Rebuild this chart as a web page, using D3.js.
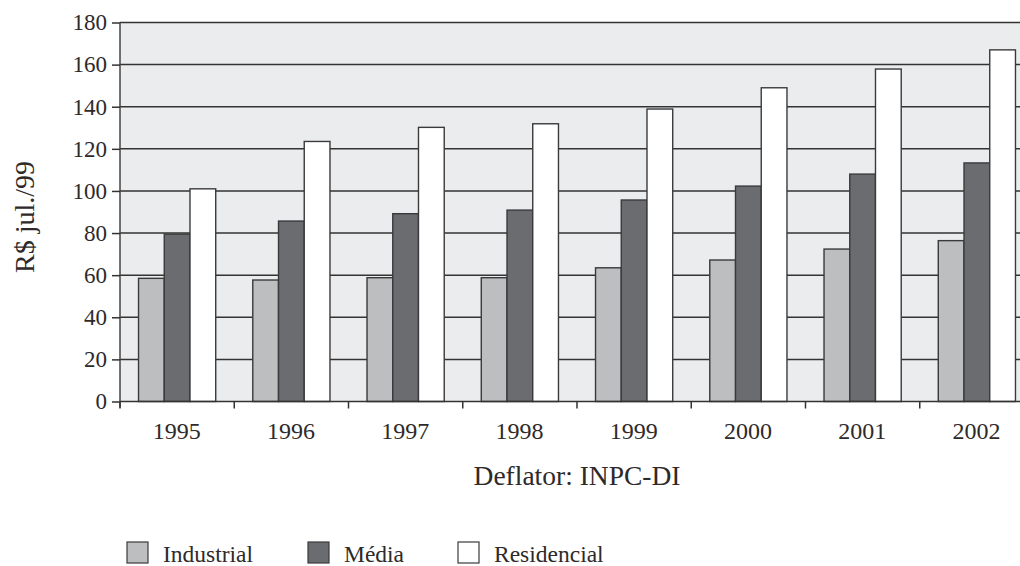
<!DOCTYPE html>
<html><head><meta charset="utf-8">
<script src="https://cdn.jsdelivr.net/npm/d3@7"></script>
<style>body{margin:0;background:#fff}svg{display:block}</style>
</head><body>
<svg id="c" width="1020" height="566"></svg>
<script>
const years = ["1995","1996","1997","1998","1999","2000","2001","2002"];
const seriesNames = ["Industrial","Média","Residencial"];
const industrial = [58.5, 57.7, 58.8, 58.8, 63.5, 67.2, 72.4, 76.4];
const media = [79.5, 85.7, 89.2, 90.9, 95.7, 102.3, 108, 113.3];
const residencial = [101, 123.5, 130.2, 131.9, 138.9, 149, 157.9, 167];
const yTicks = [0,20,40,60,80,100,120,140,160,180];
const colors = ["#bdbec0","#6b6c70","#ffffff"];
const seriesVals = [industrial, media, residencial];

const svg = d3.select("#c");
const font = "'Liberation Serif', 'DejaVu Serif', serif";
const txt = "#2e2a2a";
const L = 120, R = 1034, T = 22.5, B = 401.5;

const x = d3.scaleBand().domain(years).range([L, R]).paddingInner(0).paddingOuter(0);
const xs = d3.scaleBand().domain(seriesNames).range([0, x.bandwidth()]).paddingInner(0).paddingOuter(0.72);
const y = d3.scaleLinear().domain([0,180]).range([B, T]);

svg.append("rect").attr("x", L).attr("y", T).attr("width", R - L).attr("height", B - T).attr("fill", "#ebecee");

// gridlines
svg.append("g").selectAll("line").data(yTicks.filter(d => d > 0)).join("line")
  .attr("x1", L).attr("x2", R).attr("y1", d => y(d)).attr("y2", d => y(d))
  .attr("stroke", "#333").attr("stroke-width", 1.5);

// bars
const g = svg.append("g");
years.forEach((yr, i) => {
  seriesNames.forEach((s, j) => {
    const v = seriesVals[j][i];
    g.append("rect")
      .attr("x", x(yr) + xs(s)).attr("y", y(v))
      .attr("width", xs.bandwidth()).attr("height", B - y(v))
      .attr("fill", colors[j]).attr("stroke", "#3a3a3c").attr("stroke-width", 1.4);
  });
});

// y axis
const yAxis = d3.axisLeft(y).tickValues(yTicks).tickSize(8).tickPadding(5);
const ya = svg.append("g").attr("transform", `translate(${L},0)`).call(yAxis);
ya.select(".domain").attr("d", `M0,${T}V${B + 6}`).attr("stroke", "#444").attr("stroke-width", 1.5);
ya.selectAll(".tick line").attr("stroke", "#333").attr("stroke-width", 1.5);
ya.selectAll("text").attr("font-family", font).attr("font-size", 23).attr("fill", txt);

// x axis
const xa = svg.append("g").attr("transform", `translate(0,${B})`);
xa.append("line").attr("x1", L).attr("x2", R).attr("y1", 0).attr("y2", 0).attr("stroke", "#333").attr("stroke-width", 1.5);
xa.selectAll("line.tk").data(years).join("line").attr("class","tk")
  .attr("x1", d => x(d)).attr("x2", d => x(d)).attr("y1", 0).attr("y2", 7)
  .attr("stroke", "#333").attr("stroke-width", 1.5);
xa.selectAll("text").data(years).join("text")
  .attr("x", d => x(d) + x.bandwidth()/2 - 0.5).attr("y", 37)
  .attr("text-anchor", "middle").attr("font-family", font).attr("font-size", 24).attr("fill", txt)
  .text(d => d);

// titles
svg.append("text").attr("transform", "translate(34,217) rotate(-90)")
  .attr("text-anchor", "middle").attr("font-family", font).attr("font-size", 28).attr("fill", txt)
  .text("R$ jul./99");
svg.append("text").attr("x", 577).attr("y", 485)
  .attr("text-anchor", "middle").attr("font-family", font).attr("font-size", 27.5).attr("fill", txt)
  .text("Deflator: INPC-DI");

// legend
const legX = [127, 308, 458];
const leg = svg.append("g");
seriesNames.forEach((s, j) => {
  leg.append("rect").attr("x", legX[j]).attr("y", 542).attr("width", 21).attr("height", 21)
    .attr("fill", colors[j]).attr("stroke", "#3a3a3c").attr("stroke-width", 1.2);
  leg.append("text").attr("x", legX[j] + 36).attr("y", 562)
    .attr("font-family", font).attr("font-size", 23.5).attr("fill", txt).text(s);
});
</script>
</body></html>
